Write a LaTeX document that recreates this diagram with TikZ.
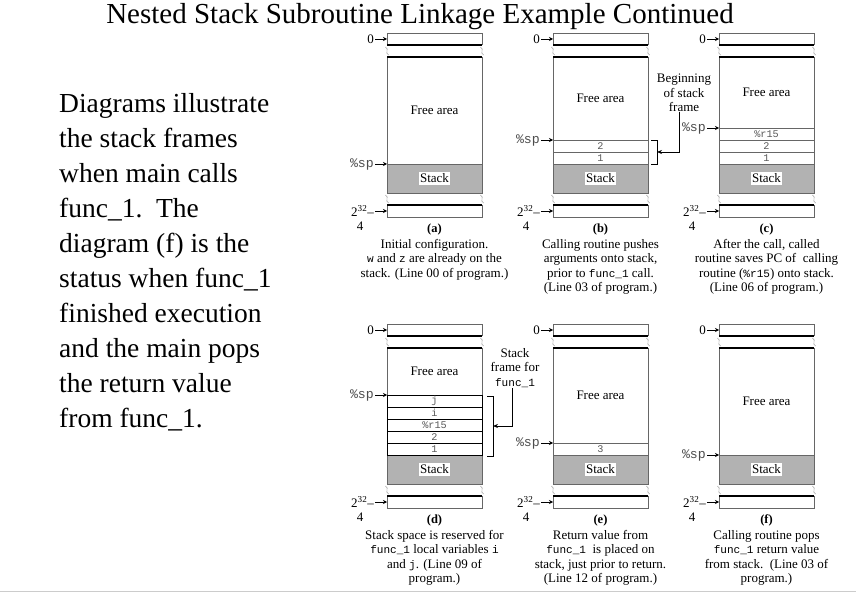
\documentclass[tikz,border=0pt]{standalone}
\usepackage{fontspec}
\setmainfont{Liberation Serif}
\setmonofont{Liberation Mono}[Scale=0.85]
\usetikzlibrary{arrows.meta}

\tikzset{
  frame/.style={draw=black!60, line width=0.6pt},
  word/.style={frame},
  cutline/.style={draw=black, line width=1.3pt},
  squig/.style={draw=black!50, line width=0.4pt},
  celltxt/.style={font=\fontsize{12}{12}\selectfont\ttfamily, text=black!65, inner sep=0pt},
  freelbl/.style={font=\fontsize{13}{13}\selectfont},
  stacklbl/.style={fill=white, inner sep=1.5pt, font=\fontsize{13}{13}\selectfont},
  addr/.style={font=\fontsize{13}{13}\selectfont, inner sep=1pt},
  splbl/.style={font=\fontsize{15.5}{15.5}\selectfont\ttfamily, text=black!70, inner sep=1pt},
  ptr/.style={-{Stealth[length=4pt,width=4pt]}, line width=0.8pt},
  tag/.style={font=\fontsize{12.5}{12.5}\selectfont\bfseries},
  caption/.style={align=center, anchor=north, inner sep=0pt, font=\fontsize{13}{14.5}\selectfont},
  note/.style={align=center, inner sep=0pt, font=\fontsize{13}{14.5}\selectfont},
  brace/.style={line width=0.8pt},
}

% one memory column: #1 name, #2 left x, #3 top y, #4 words above the stack (top first), #5 how many
\newcommand{\memcol}[5]{%
  \begin{scope}[shift={(#2,#3)}]
    % top and bottom cells with the breaks
    \draw[frame] (0,12) -- (0,0) -- (95,0) -- (95,12);
    \draw[frame] (0,24) -- (0,160);
    \draw[frame] (95,24) -- (95,160);
    \draw[frame] (0,172) -- (0,184) -- (95,184) -- (95,172);
    \draw[cutline] (0,12) -- (95,12);
    \draw[cutline] (0,24) -- (95,24);
    \draw[cutline] (0,172) -- (95,172);
    \foreach \sx in {0,95}
      \foreach \sy in {18,166}
        \draw[squig] (\sx-1.5,\sy-4) .. controls (\sx+2.5,\sy-2) and (\sx-2.5,\sy+2) .. (\sx+1.5,\sy+4);
    % stack
    \draw[frame, fill=black!30] (0,131) rectangle (95,160);
    \node[stacklbl] (#1-stack) at (47.5,145.5) {Stack};
    % pushed words
    \ifnum#5>0
      \foreach \w [count=\k] in {#4} {
        \draw[word] (0,{131-12*(#5-\k+1)}) rectangle (95,{131-12*(#5-\k)});
        \node[celltxt] at (47.5,{137-12*(#5-\k+1)}) {\w};
      }
    \fi
    \node[freelbl] (#1-free) at (47.5,{(24+131-12*#5)/2}) {Free area};
    % addresses
    \node[addr, anchor=east] (#1-zero) at (-12,6) {0};
    \draw[ptr] (#1-zero) -- (0,6);
    \node[splbl, anchor=east] (#1-sp) at (-12,{131-12*#5}) {\%sp};
    \draw[ptr] (#1-sp) -- (0,{131-12*#5});
    \node[addr, anchor=east] (#1-end) at (-12,178) {2\textsuperscript{32}–};
    \draw[ptr] (#1-end) -- (0,178);
    \node[addr] (#1-four) at (-27,193) {4};
    \node[tag] (#1-tag) at (47.5,196) {(#1)};
  \end{scope}}

\begin{document}
\begin{tikzpicture}[x=1pt, y=-1pt]
  \useasboundingbox (0,0) rectangle (856,593);

  \node[font=\fontsize{29}{29}\selectfont, anchor=base] (title) at (420,24)
    {Nested Stack Subroutine Linkage Example Continued};

  \node[anchor=north west, align=left, inner sep=0pt, font=\fontsize{27.5}{35}\selectfont] (intro) at (59,93)
    {Diagrams illustrate\\the stack frames\\when main calls\\func\_1.\ \ The\\diagram (f) is the\\status when func\_1\\finished execution\\and the main pops\\the return value\\from func\_1.};

  % top row
  \memcol{a}{387}{33}{}{0}
  \memcol{b}{553}{33}{2,1}{2}
  \memcol{c}{719}{33}{\%r15,2,1}{3}

  % bottom row
  \begin{scope}[word/.style={draw=black, line width=1pt}]
    \memcol{d}{387}{324}{j,i,\%r15,2,1}{5}
  \end{scope}
  \memcol{e}{553}{324}{3}{1}
  \memcol{f}{719}{324}{}{0}

  % captions
  \node[caption] (a-cap) at (434.5,239) {Initial configuration.\\\texttt{w} and \texttt{z} are already on the\\stack. (Line 00 of program.)};
  \node[caption] (b-cap) at (600.5,239) {Calling routine pushes\\arguments onto stack,\\prior to \texttt{func\_1} call.\\(Line 03 of program.)};
  \node[caption] (c-cap) at (766.5,239) {After the call, called\\routine saves PC of\ \ calling\\routine (\texttt{\%r15}) onto stack.\\(Line 06 of program.)};
  \node[caption] (d-cap) at (434.5,530) {Stack space is reserved for\\\texttt{func\_1} local variables \texttt{i}\\and \texttt{j}. (Line 09 of\\program.)};
  \node[caption] (e-cap) at (600.5,530) {Return value from\\\texttt{func\_1}\ \ is placed on\\stack, just prior to return.\\(Line 12 of program.)};
  \node[caption] (f-cap) at (766.5,530) {Calling routine pops\\\texttt{func\_1} return value\\from stack.\ \ (Line 03 of\\program.)};

  % beginning of stack frame
  \draw[brace] (651,140) -- (657,140) -- (657,164) -- (651,164);
  \coordinate (b-brk) at (657,152);
  \node[note] (b-note) at (684,93) {Beginning\\of stack\\frame};
  \draw[brace, -{Stealth[length=5pt,width=4pt]}] ([xshift=-5pt]b-note.south) |- (b-brk);

  % stack frame for func_1
  \draw[brace] (487,396) -- (493,396) -- (493,456) -- (487,456);
  \coordinate (d-brk) at (493,426);
  \node[note] (d-note) at (515,368) {Stack\\frame for\\\texttt{func\_1}};
  \draw[brace, -{Stealth[length=5pt,width=4pt]}] ([xshift=-3pt]d-note.south) |- (d-brk);

  \draw[black!20] (0,591) -- (856,591);
\end{tikzpicture}
\end{document}
